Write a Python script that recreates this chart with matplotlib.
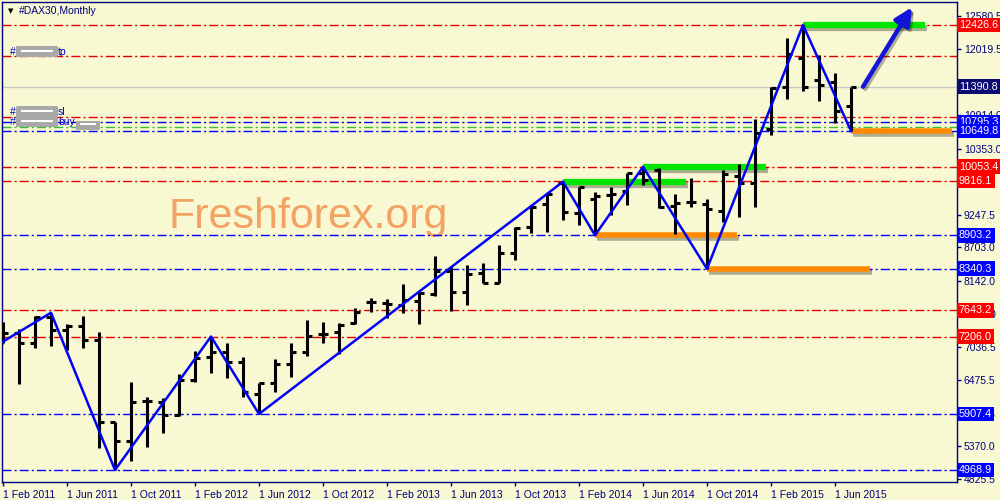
import matplotlib
matplotlib.use('Agg')
import matplotlib.pyplot as plt
import matplotlib.patheffects as pe
from matplotlib.patches import FancyBboxPatch

# monthly bars, Feb 2011 .. Jul 2015
opens = [7095, 7270, 7102, 7540, 7315, 7388, 7147, 5773, 5455, 6120, 6114, 5890,
         6477, 6868, 6952, 6773, 6243, 6421, 6745, 6952, 7243, 7277, 7430, 7780,
         7763, 7734, 7801, 7918, 8309, 7957, 8265, 8098, 8611, 9036, 9421, 9773,
         9282, 9510, 9577, 9650, 9941, 10000, 9400, 9465, 9420, 9315, 9896, 9784,
         10684, 11393, 11868, 11505, 11477, 11074]
highs = [7444, 7327, 7550, 7605, 7410, 7550, 7287, 5778, 6439, 6187, 6170, 6573,
         6968, 7206, 7092, 6868, 6421, 6829, 7092, 7478, 7449, 7427, 7690, 7857,
         7835, 8081, 7957, 8555, 8387, 8404, 8443, 8745, 9046, 9410, 9606, 9800,
         9717, 9633, 9717, 9951, 10050, 10025, 9594, 9870, 9505, 9997, 10092, 10846,
         11382, 12204, 12426.6, 11924, 11617, 11395]
lows = [7090, 6405, 7008, 7052, 6980, 7008, 5333, 4968.9, 5125, 5360, 5594, 5879,
        6450, 6590, 6506, 6197, 5907.4, 6281, 6533, 6879, 7102, 6913, 7416, 7622,
        7522, 7605, 7416, 7885, 7639, 7734, 8098, 8098, 8488, 8946, 8963, 9159,
        9075, 8903.2, 9242, 9410, 9745, 9360, 8930, 9380, 8340.3, 9120, 9204, 9371,
        10583, 11181, 11326, 11158, 10779, 10649.8]
closes = [7270, 7102, 7540, 7315, 7388, 7147, 5773, 5455, 6114, 6120, 5896, 6477,
          6851, 6952, 6773, 6281, 6421, 6745, 6952, 7214, 7250, 7404, 7612, 7780,
          7751, 7818, 7930, 8303, 7957, 8254, 8098, 8600, 9019, 9382, 9595, 9288,
          9717, 9560, 9594, 9941, 9829, 9370, 9450, 9460, 9338, 9930, 9784, 10622,
          11366, 11936, 11393, 11421, 10985, 11390.8]

date_labels = ['1 Feb 2011', '1 Jun 2011', '1 Oct 2011', '1 Feb 2012', '1 Jun 2012',
               '1 Oct 2012', '1 Feb 2013', '1 Jun 2013', '1 Oct 2013', '1 Feb 2014',
               '1 Jun 2014', '1 Oct 2014', '1 Feb 2015', '1 Jun 2015']

price_ticks = [12580.5, 12019.5, 11458.5, 10914.0, 10353.0, 9792.0, 9247.5, 8703.0,
               8142.0, 7581.0, 7036.5, 6475.5, 5914.5, 5370.0, 4825.5]

# zigzag pivots (month index, price)
zz_idx = [-1, 3, 7, 13, 16, 35, 37, 40, 44, 50, 53]
zz_price = [6960, 7605, 4968.9, 7206, 5907.4, 9800, 8903.2, 10050, 8340.3, 12426.6, 10649.8]

red_levels = [12426.6, 10053.4, 9816.1, 7643.2, 7206.0]
blue_levels = [10795.3, 10649.8, 8903.2, 8340.3, 5907.4, 4968.9]
tp_level = 11907
sl_level = 10880
green_level = 10712
bid = 11390.8

# highlighted resistance / support segments: (start idx, end idx, price)
green_segs = [(35, 42.7, 9800), (40, 47.7, 10050), (50, 57.6, 12426.6)]
orange_segs = [(37, 45.9, 8903.2), (44, 54.2, 8340.3), (53, 59.3, 10649.8)]

BG = '#F8F8D2'
NAVY = '#000080'
FONT = 'Liberation Sans'

fig = plt.figure(figsize=(10, 5), dpi=100, facecolor=BG)
ax = fig.add_axes([0.002, 0.036, 0.955, 0.96], facecolor=BG)

n = len(opens)
xs = list(range(n))
ax.set_xlim(-0.0625, 59.625)
ax.set_ylim(4767.7, 12812)

# watermark
ax.text(0.168, 1 - 228 / 500, 'Freshforex.org', transform=fig.transFigure,
        fontsize=31, family=FONT, color='#F4A263', zorder=0.5)

dd = (0, (6.5, 2.2, 1.5, 2.2))
for p in red_levels + [tp_level, sl_level]:
    ax.axhline(p, color='#E80000', lw=1, ls=dd, zorder=1)
for p in blue_levels:
    ax.axhline(p, color='#0000FF', lw=1, ls=dd, zorder=1)
ax.axhline(green_level, color='#30C030', lw=1, ls=dd, zorder=1)
ax.axhline(bid, color='#C8C8C8', lw=1, zorder=1)

shadow = [pe.SimpleLineShadow(offset=(1.5, -2), shadow_color='k', alpha=0.3), pe.Normal()]
for a, b, p in green_segs:
    ax.plot([a, b], [p, p], color='#00E600', lw=4.5, solid_capstyle='butt',
            path_effects=shadow, zorder=2)
for a, b, p in orange_segs:
    ax.plot([a, b], [p, p], color='#FF8A00', lw=4, solid_capstyle='butt',
            path_effects=shadow, zorder=2)

# OHLC bars
tick = 0.3
ax.vlines(xs, lows, highs, color='k', lw=2.2, zorder=3)
ax.hlines(opens, [x - tick for x in xs], xs, color='k', lw=2.2, zorder=3)
ax.hlines(closes, xs, [x + tick for x in xs], color='k', lw=2.2, zorder=3)

ax.plot(zz_idx, zz_price, color='#0000FF', lw=1.8, zorder=4)

ax.annotate('', xy=(56.8, 12723), xytext=(53.75, 11393),
            arrowprops=dict(arrowstyle='-|>', color='#1414D8', lw=3.2,
                            mutation_scale=26, shrinkA=0, shrinkB=0,
                            path_effects=[pe.SimpleLineShadow(offset=(1.5, -1.5), alpha=0.3), pe.Normal()]),
            zorder=5)

# axes styling
for s in ax.spines.values():
    s.set_color(NAVY)
    s.set_linewidth(1)
ax.yaxis.tick_right()
ax.set_yticks(price_ticks)
ax.set_yticklabels(['%.1f' % p for p in price_ticks], family=FONT)
ax.set_xticks(range(0, 56, 4))
ax.set_xticklabels(date_labels, ha='left', family=FONT)
ax.tick_params(axis='both', colors=NAVY, labelcolor=NAVY, labelsize=7.5, length=3,
               width=1, direction='out', pad=2)
ax.tick_params(axis='x', pad=3)

# price boxes
def price_box(p, fc):
    ax.annotate('%.1f' % p, xy=(1.002, p), xycoords=('axes fraction', 'data'),
                ha='left', va='center', fontsize=7.8, family=FONT, color='white',
                zorder=10, annotation_clip=False,
                bbox=dict(boxstyle='square,pad=0.22', fc=fc, ec='none'))

for p in red_levels:
    price_box(p, '#FF0000')
for p in blue_levels:
    price_box(p, '#0000FF')
price_box(bid, '#0A0A70')

# header and order labels
fig.text(0.008, 1 - 13 / 500, '\u25bc', fontsize=5, color='k')
fig.text(0.019, 1 - 14 / 500, '#DAX30,Monthly', fontsize=7.5, family=FONT, color=NAVY)

def order_label(y, suffix, extra=False):
    fig.text(0.010, 1 - y / 500, '#', fontsize=7.5, family=FONT, color='#0000C0')
    fig.patches.append(FancyBboxPatch((0.018, 1 - (y + 1) / 500), 0.038, 0.018,
                                      boxstyle='round,pad=0.002', fc='#A8A8A8',
                                      ec='none', transform=fig.transFigure, figure=fig))
    fig.lines.append(plt.Line2D([0.022, 0.052], [1 - (y - 4) / 500] * 2, color='white',
                                lw=1.5, transform=fig.transFigure, figure=fig))
    fig.text(0.058, 1 - y / 500, suffix, fontsize=7.5, family=FONT, color='#0000C0')
    if extra:
        fig.patches.append(FancyBboxPatch((0.078, 1 - (y + 4) / 500), 0.020, 0.014,
                                          boxstyle='round,pad=0.002', fc='#A8A8A8',
                                          ec='none', transform=fig.transFigure, figure=fig))
        fig.lines.append(plt.Line2D([0.081, 0.095], [1 - (y - 1) / 500] * 2, color='white',
                                    lw=1.5, transform=fig.transFigure, figure=fig))

order_label(55, 'tp')
order_label(115, 'sl')
order_label(125, 'buy', extra=True)

fig.savefig('out.png', dpi=100, facecolor=BG)
